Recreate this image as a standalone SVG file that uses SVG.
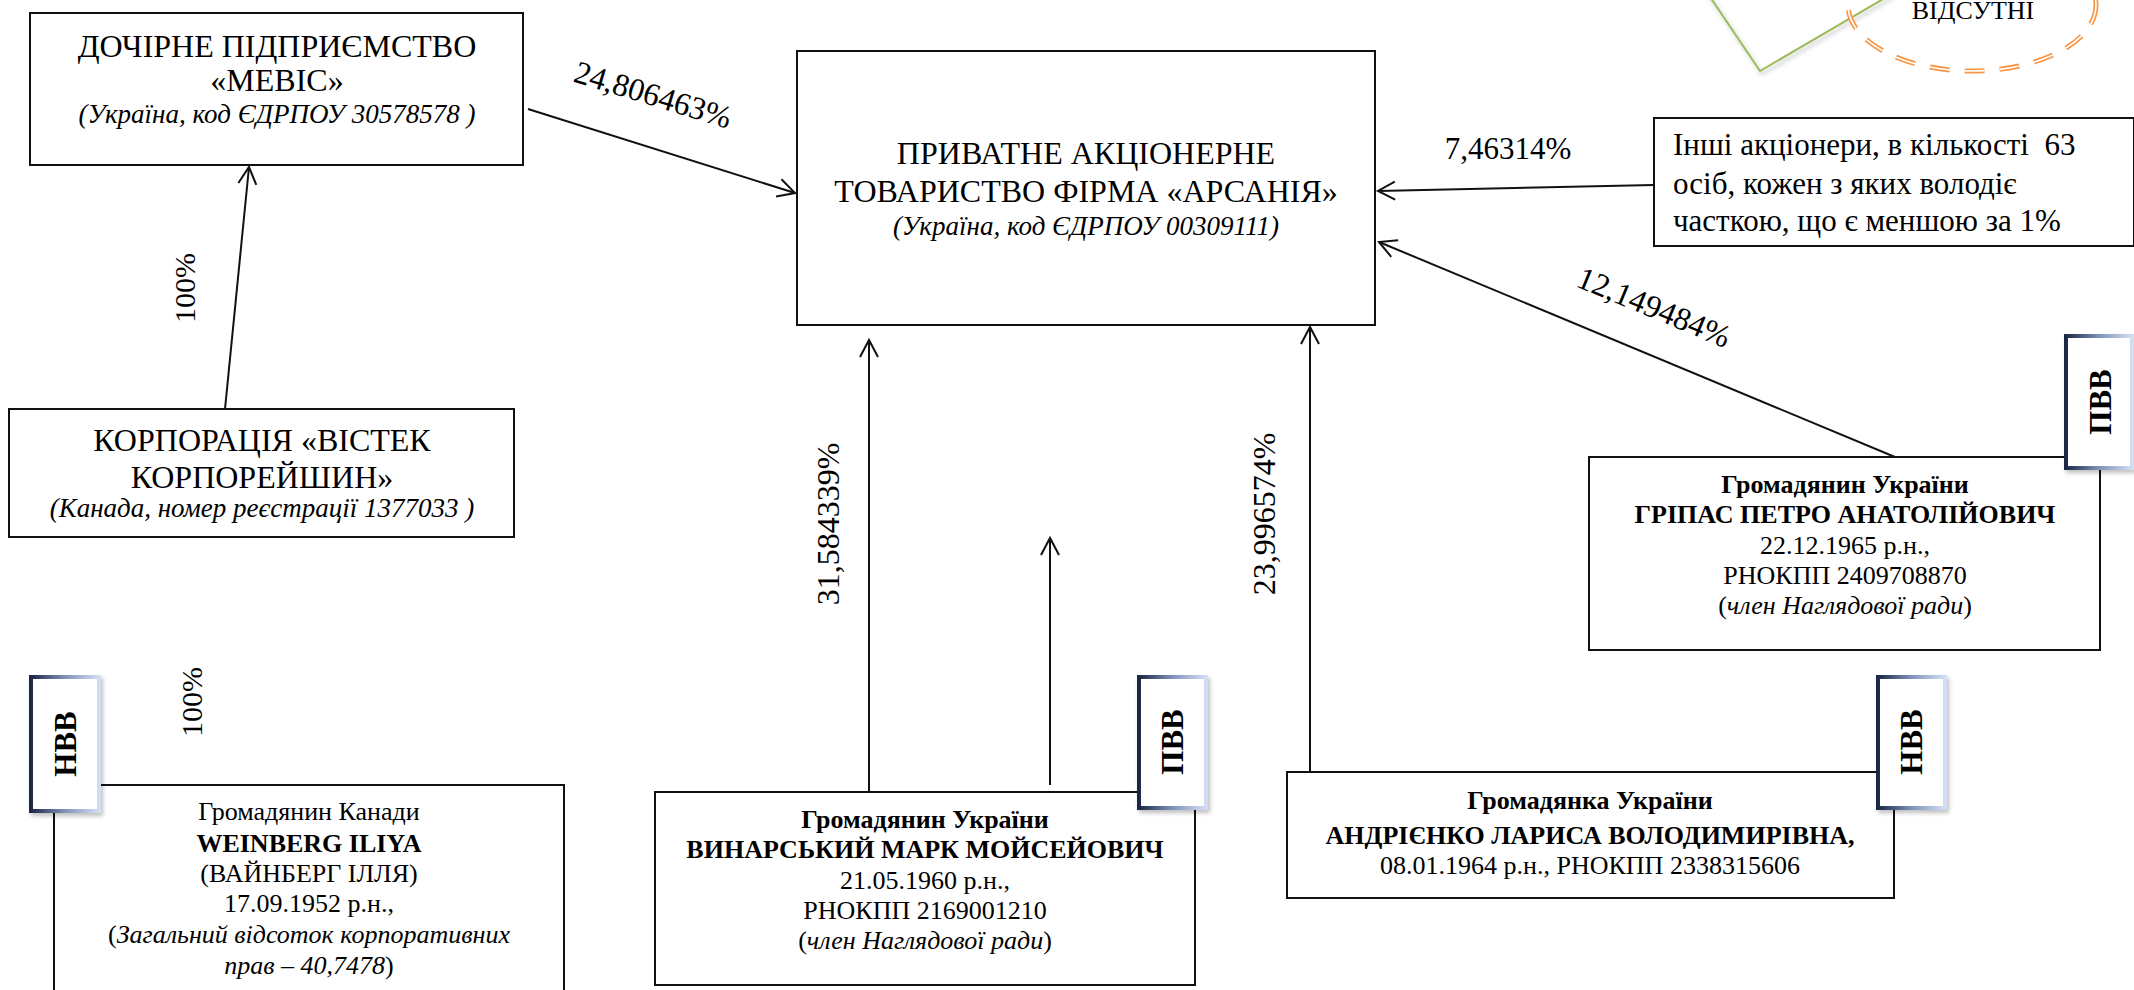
<svg xmlns="http://www.w3.org/2000/svg" width="2134" height="990" viewBox="0 0 2134 990">
<defs>
<style>
.box{fill:#fff;stroke:#111;stroke-width:2}
.t{font-family:"Liberation Serif","Times New Roman",serif;fill:#000}
.c{text-anchor:middle}
.f32{font-size:32px}
.f31{font-size:31px}
.f27{font-size:27px;font-style:italic}
.f26{font-size:26px}
.b{font-weight:bold}
.i{font-style:italic}
.con{stroke:#111;stroke-width:2;fill:none;marker-end:url(#arr)}
.badge{fill:#fff;stroke:url(#bg);stroke-width:4;filter:url(#sh)}
.bt{font-family:"Liberation Serif","Times New Roman",serif;font-weight:bold;font-size:31px;text-anchor:middle;fill:#000}
</style>
<marker id="arr" markerUnits="userSpaceOnUse" markerWidth="24" markerHeight="24" refX="0" refY="0" viewBox="-20 -12 24 24" orient="auto">
<path d="M-17,-9 L0,0 L-17,9" fill="none" stroke="#111" stroke-width="2"/>
</marker>
<linearGradient id="bg" x1="0" y1="0" x2="1" y2="0">
<stop offset="0" stop-color="#1c2846"/>
<stop offset="0.5" stop-color="#7f93bb"/>
<stop offset="1" stop-color="#d3def2"/>
</linearGradient>
<filter id="sh" x="-20%" y="-20%" width="150%" height="150%">
<feDropShadow dx="2" dy="3" stdDeviation="2" flood-color="#000" flood-opacity="0.25"/>
</filter>
</defs>

<g id="callout-top">
<polyline points="1700,-18 1760,71 1914,-19" fill="none" stroke="#9bbb59" stroke-width="2" filter="url(#sh)"/>
<ellipse cx="1972" cy="5" rx="124" ry="66" fill="none" stroke="#f79646" stroke-width="5" stroke-dasharray="20 15"/>
<ellipse cx="1972" cy="5" rx="124" ry="66" fill="none" stroke="#fff" stroke-width="1.6" stroke-dasharray="20 15"/>
<text class="t c f26" x="1973" y="19">ВІДСУТНІ</text>
</g>

<g id="connectors">
<line class="con" x1="528" y1="109" x2="795" y2="193"/>
<line class="con" x1="225" y1="409" x2="249" y2="167"/>
<line class="con" x1="1654" y1="185" x2="1378" y2="191"/>
<line class="con" x1="1895" y1="457" x2="1379" y2="242"/>
<line class="con" x1="869" y1="792" x2="869" y2="340"/>
<line class="con" x1="1050" y1="785" x2="1050" y2="538"/>
<line class="con" x1="1310" y1="772" x2="1310" y2="327"/>
<text class="t f32" transform="translate(650,105) rotate(17)" text-anchor="middle">24,806463%</text>
<text class="t f31" x="1508" y="159" text-anchor="middle">7,46314%</text>
<text class="t f32" transform="translate(1650,317) rotate(22.5)" text-anchor="middle">12,149484%</text>
<text class="t f32" transform="translate(839,524) rotate(-90)" text-anchor="middle">31,584339%</text>
<text class="t f32" transform="translate(1275,514) rotate(-90)" text-anchor="middle">23,996574%</text>
<text class="t" style="font-size:30px" transform="translate(195,288) rotate(-90)" text-anchor="middle">100%</text>
<text class="t" style="font-size:30px" transform="translate(202,702) rotate(-90)" text-anchor="middle">100%</text>
</g>

<g id="mevis">
<rect class="box" x="30" y="13" width="493" height="152"/>
<text class="t c f32" x="277" y="57">ДОЧІРНЕ ПІДПРИЄМСТВО</text>
<text class="t c f32" x="277" y="91">«МЕВІС»</text>
<text class="t c f27" x="277" y="123">(Україна, код ЄДРПОУ 30578578 )</text>
</g>

<g id="arsania">
<rect class="box" x="797" y="51" width="578" height="274"/>
<text class="t c f32" x="1086" y="164">ПРИВАТНЕ АКЦІОНЕРНЕ</text>
<text class="t c f32" x="1086" y="202">ТОВАРИСТВО ФІРМА «АРСАНІЯ»</text>
<text class="t c f27" x="1086" y="235">(Україна, код ЄДРПОУ 00309111)</text>
</g>

<g id="others">
<rect class="box" x="1654" y="118" width="480" height="128"/>
<text class="t f31" x="1673" y="155" xml:space="preserve">Інші акціонери, в кількості  63</text>
<text class="t f31" x="1673" y="194">осіб, кожен з яких володіє</text>
<text class="t f31" x="1673" y="231">часткою, що є меншою за 1%</text>
</g>

<g id="vistek">
<rect class="box" x="9" y="409" width="505" height="128"/>
<text class="t c f32" x="262" y="451">КОРПОРАЦІЯ «ВІСТЕК</text>
<text class="t c f32" x="262" y="488">КОРПОРЕЙШИН»</text>
<text class="t c f27" x="262" y="517">(Канада, номер реєстрації 1377033 )</text>
</g>

<g id="gripas">
<rect class="box" x="1589" y="457" width="511" height="193"/>
<text class="t c f26 b" x="1845" y="493">Громадянин України</text>
<text class="t c f26 b" x="1845" y="523">ГРІПАС ПЕТРО АНАТОЛІЙОВИЧ</text>
<text class="t c f26" x="1845" y="554">22.12.1965 р.н.,</text>
<text class="t c f26" x="1845" y="584">РНОКПП 2409708870</text>
<text class="t c f26" x="1845" y="614">(<tspan class="i">член Наглядової ради</tspan>)</text>
</g>
<g id="badge-gripas">
<rect class="badge" x="2066" y="336" width="66" height="132"/>
<text class="bt" transform="translate(2111,402) rotate(-90)">ПВВ</text>
</g>

<g id="weinberg">
<rect class="box" x="54" y="785" width="510" height="230"/>
<text class="t c f26" x="309" y="820">Громадянин Канади</text>
<text class="t c f26 b" x="309" y="852">WEINBERG ILIYA</text>
<text class="t c f26" x="309" y="882">(ВАЙНБЕРГ ІЛЛЯ)</text>
<text class="t c f26" x="309" y="912">17.09.1952 р.н.,</text>
<text class="t c f26" x="309" y="943">(<tspan class="i">Загальний відсоток корпоративних</tspan></text>
<text class="t c f26" x="309" y="974"><tspan class="i">прав – 40,7478</tspan>)</text>
</g>
<g id="badge-weinberg">
<rect class="badge" x="31" y="677" width="68" height="134"/>
<text class="bt" transform="translate(76,744) rotate(-90)">НВВ</text>
</g>

<g id="vinarsky">
<rect class="box" x="655" y="792" width="540" height="193"/>
<text class="t c f26 b" x="925" y="828">Громадянин України</text>
<text class="t c f26 b" x="925" y="858">ВИНАРСЬКИЙ МАРК МОЙСЕЙОВИЧ</text>
<text class="t c f26" x="925" y="889">21.05.1960 р.н.,</text>
<text class="t c f26" x="925" y="919">РНОКПП 2169001210</text>
<text class="t c f26" x="925" y="949">(<tspan class="i">член Наглядової ради</tspan>)</text>
</g>
<g id="badge-vinarsky">
<rect class="badge" x="1139" y="677" width="67" height="131"/>
<text class="bt" transform="translate(1183,742) rotate(-90)">ПВВ</text>
</g>

<g id="andrienko">
<rect class="box" x="1287" y="772" width="607" height="126"/>
<text class="t c f26 b" x="1590" y="809">Громадянка України</text>
<text class="t c f26 b" x="1590" y="844">АНДРІЄНКО ЛАРИСА ВОЛОДИМИРІВНА,</text>
<text class="t c f26" x="1590" y="874">08.01.1964 р.н., РНОКПП 2338315606</text>
</g>
<g id="badge-andrienko">
<rect class="badge" x="1878" y="677" width="67" height="131"/>
<text class="bt" transform="translate(1922,742) rotate(-90)">НВВ</text>
</g>
</svg>
